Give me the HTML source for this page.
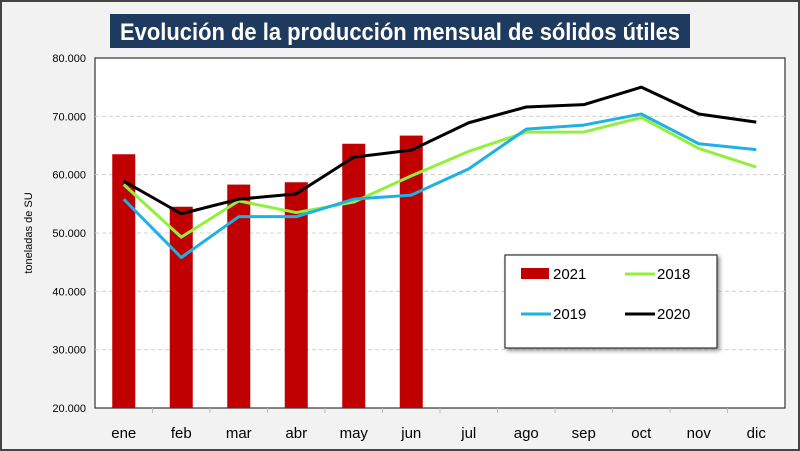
<!DOCTYPE html>
<html><head><meta charset="utf-8"><style>
body{margin:0;width:800px;height:451px;overflow:hidden;background:#fff;}
svg{display:block;font-family:"Liberation Sans",sans-serif;}
</style></head><body>
<svg id="c" width="800" height="451">
<rect x="1" y="1" width="798" height="449" fill="#f2f2f2" stroke="#444" stroke-width="2"/>
<rect x="110" y="14" width="580" height="34" fill="#1f3a5f"/>
<text x="400" y="40" text-anchor="middle" font-size="24" font-weight="bold" fill="#fff" font-family="Liberation Sans Narrow, Liberation Sans, sans-serif" textLength="560" lengthAdjust="spacingAndGlyphs">Evolución de la producción mensual de sólidos útiles</text>
<rect x="95" y="58" width="690" height="350" fill="#fff" stroke="#333" stroke-width="1.2"/>
<text transform="translate(32,233) rotate(-90)" text-anchor="middle" font-size="11" fill="#000">toneladas de SU</text>
<g id="grid"></g><g id="bars"></g><g id="lines"></g><g id="axes"></g>
<g>
<rect x="505" y="255" width="212" height="93" fill="#fff" stroke="#333" stroke-width="1.2" style="filter:drop-shadow(2px 2px 2px #888)"/>
<rect x="521" y="268" width="28" height="11" fill="#c00000"/>
<text x="553" y="279" font-size="15">2021</text>
<line x1="625" y1="274" x2="655" y2="274" stroke="#92f03c" stroke-width="3"/>
<text x="657" y="279" font-size="15">2018</text>
<line x1="521" y1="314" x2="551" y2="314" stroke="#1fb0e6" stroke-width="3"/>
<text x="553" y="319" font-size="15">2019</text>
<line x1="625" y1="314" x2="655" y2="314" stroke="#000" stroke-width="3"/>
<text x="657" y="319" font-size="15">2020</text>
</g>
</svg>
<script>
const months=["ene","feb","mar","abr","may","jun","jul","ago","sep","oct","nov","dic"];
const yTicks=[20000,30000,40000,50000,60000,70000,80000];
const yTickLabels=["20.000","30.000","40.000","50.000","60.000","70.000","80.000"];
const s2021=[63500,54500,58300,58700,65300,66700];
const s2018=[58300,49300,55500,53500,55300,59800,64000,67300,67300,69800,64500,61300];
const s2019=[55800,45800,52800,52800,55800,56500,61000,67800,68500,70400,65300,64300];
const s2020=[58900,53300,55800,56700,63000,64200,68900,71600,72000,75000,70400,69000];
const NS="http://www.w3.org/2000/svg";
const X0=95,X1=785,Y0=408,Y1=58,bw=(X1-X0)/12;
const xs=i=>X0+bw*(i+0.5);
const ys=v=>Y0-(v-20000)/60000*(Y0-Y1);
function mk(t,a,p){const e=document.createElementNS(NS,t);for(const k in a)e.setAttribute(k,a[k]);p.appendChild(e);return e;}
const grid=document.getElementById('grid'),axes=document.getElementById('axes'),bars=document.getElementById('bars'),lines=document.getElementById('lines');
yTicks.forEach((v,i)=>{
  if(v>20000&&v<80000){const g=mk('line',{x1:X0,x2:X1,y1:ys(v),y2:ys(v),stroke:'#d0d0d0','stroke-dasharray':'4,3'},grid);
  
  }
  const t=mk('text',{x:86,y:ys(v)+4,'text-anchor':'end','font-size':11},axes);t.textContent=yTickLabels[i];
  
  
});
months.forEach((m,i)=>{
  const t=mk('text',{x:xs(i),y:438,'text-anchor':'middle','font-size':15},axes);t.textContent=m;
  
  
  if(i>0){const tk=mk('line',{x1:X0+bw*i,x2:X0+bw*i,y1:Y0,y2:Y0+5,stroke:'#bbb'},axes);
  
  }
});
s2021.forEach((v,i)=>{
  const r=mk('rect',{x:xs(i)-11.5,y:ys(v),width:23,height:Y0-ys(v),fill:'#c00000'},bars);
  
  
});
[[s2018,'#92f03c','line-2018'],[s2019,'#1fb0e6','line-2019'],[s2020,'#000','line-2020']].forEach(([d,c,n])=>{
  const p=mk('polyline',{points:d.map((v,i)=>xs(i)+','+ys(v)).join(' '),fill:'none',stroke:c,'stroke-width':3,'stroke-linejoin':'round'},lines);
  
  
});
</script>
</body></html>
